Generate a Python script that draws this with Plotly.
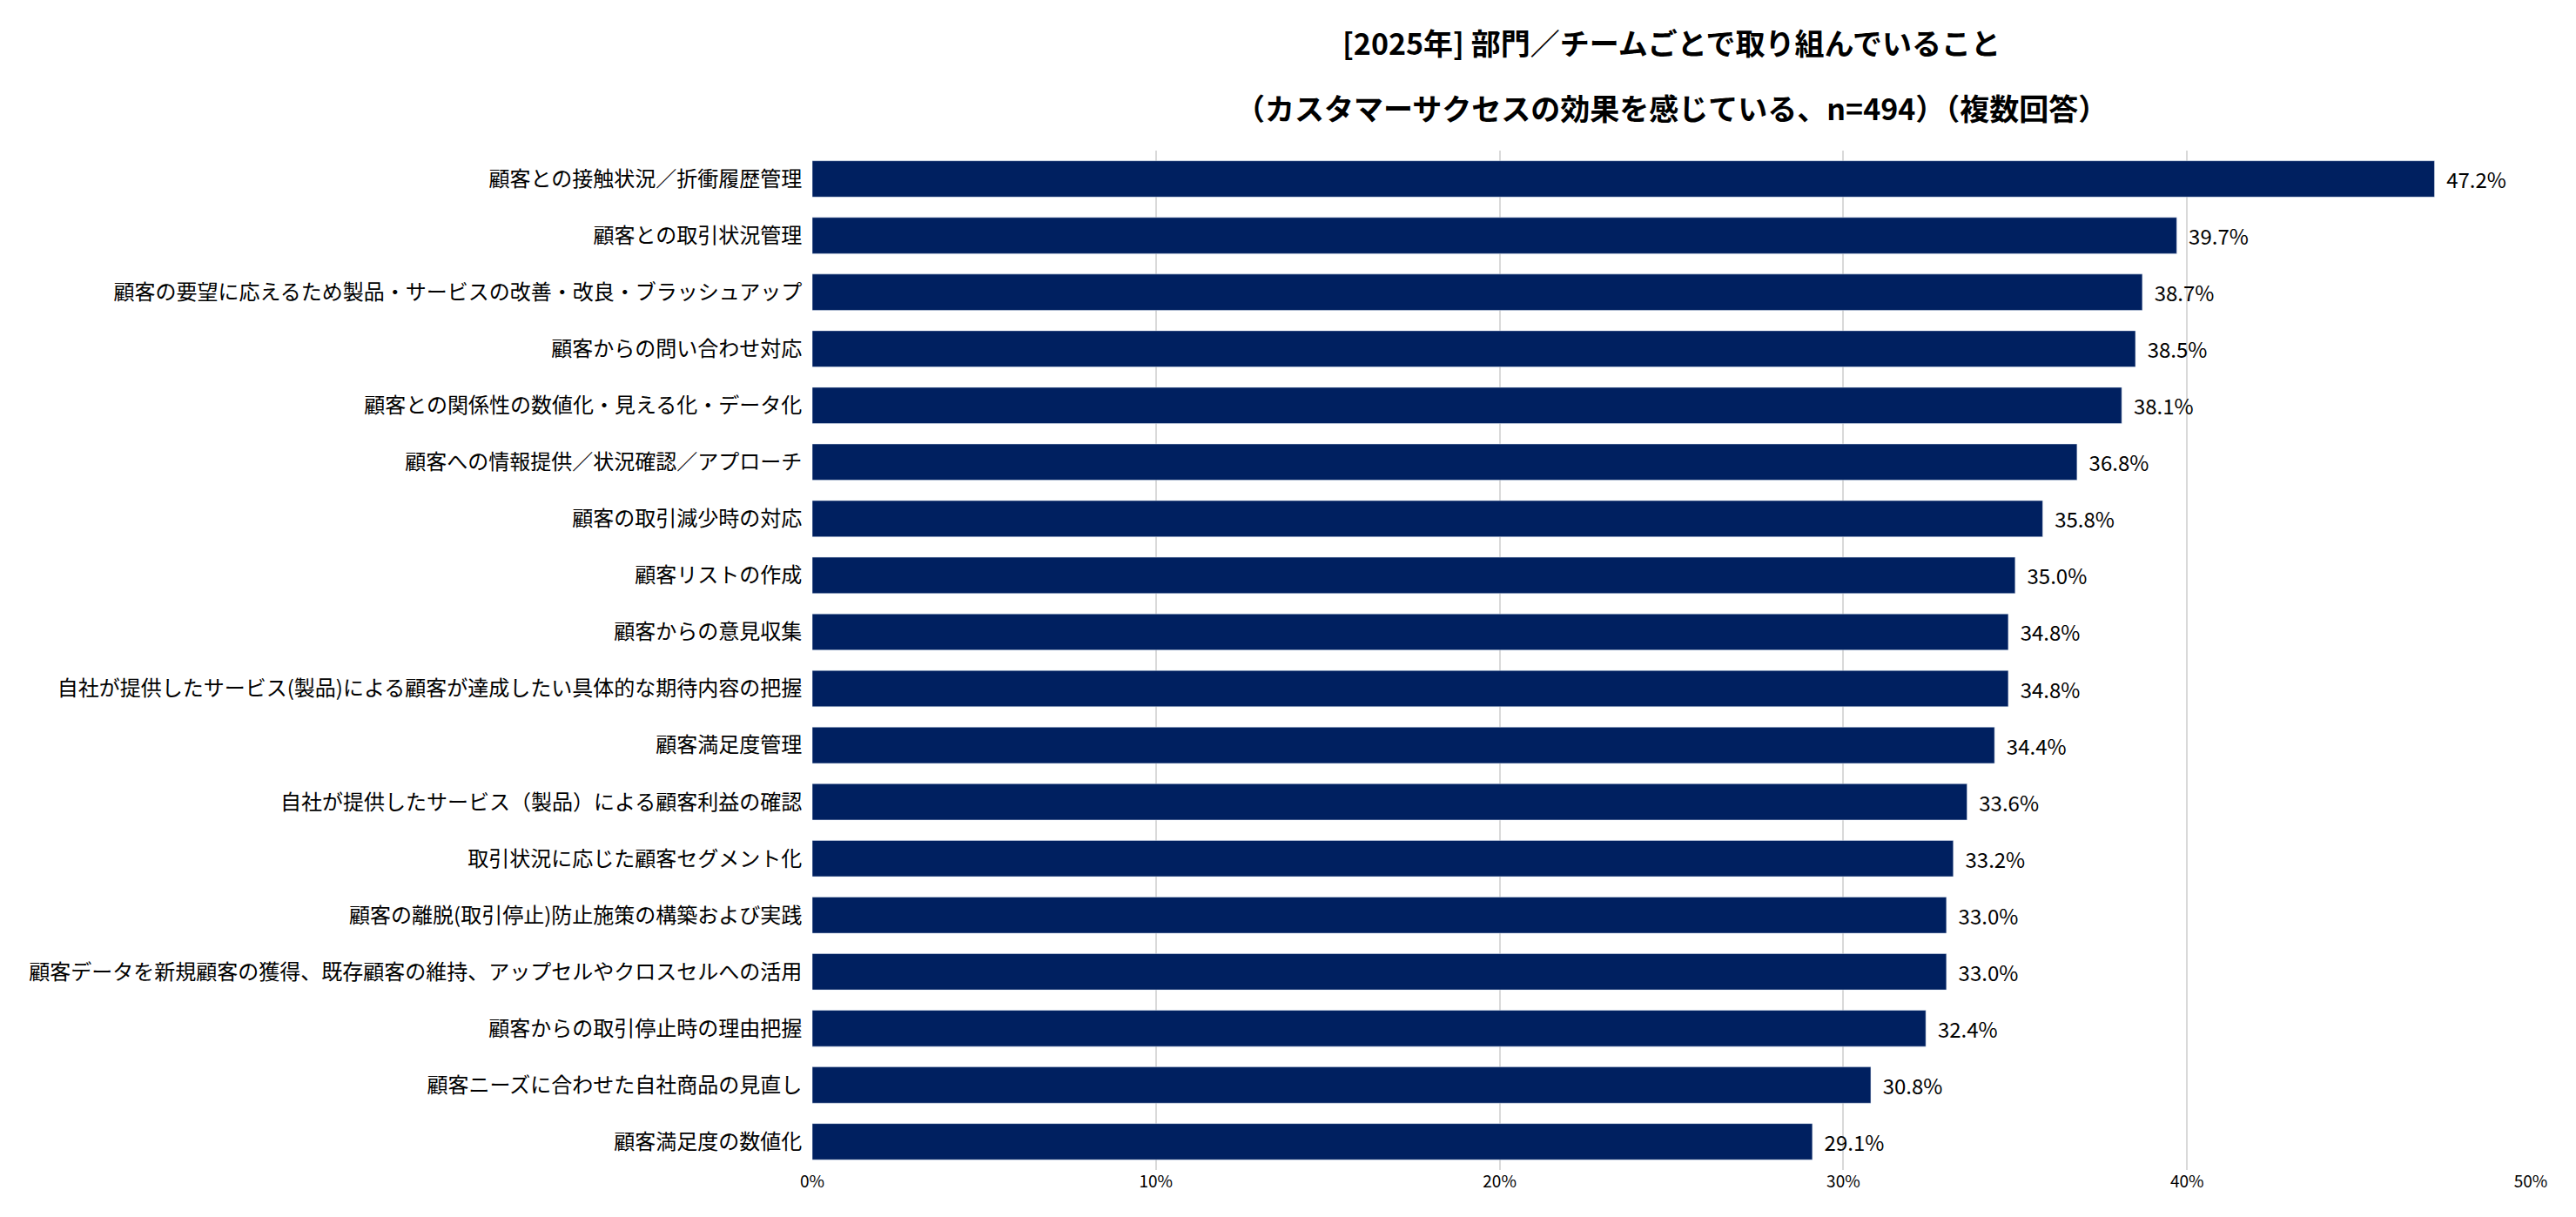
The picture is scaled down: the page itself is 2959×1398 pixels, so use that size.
import plotly.graph_objects as go

CATEGORIES = [
    "顧客との接触状況／折衝履歴管理",
    "顧客との取引状況管理",
    "顧客の要望に応えるため製品・サービスの改善・改良・ブラッシュアップ",
    "顧客からの問い合わせ対応",
    "顧客との関係性の数値化・見える化・データ化",
    "顧客への情報提供／状況確認／アプローチ",
    "顧客の取引減少時の対応",
    "顧客リストの作成",
    "顧客からの意見収集",
    "自社が提供したサービス(製品)による顧客が達成したい具体的な期待内容の把握",
    "顧客満足度管理",
    "自社が提供したサービス（製品）による顧客利益の確認",
    "取引状況に応じた顧客セグメント化",
    "顧客の離脱(取引停止)防止施策の構築および実践",
    "顧客データを新規顧客の獲得、既存顧客の維持、アップセルやクロスセルへの活用",
    "顧客からの取引停止時の理由把握",
    "顧客ニーズに合わせた自社商品の見直し",
    "顧客満足度の数値化",
]
VALUES = [47.2, 39.7, 38.7, 38.5, 38.1, 36.8, 35.8, 35.0, 34.8, 34.8,
          34.4, 33.6, 33.2, 33.0, 33.0, 32.4, 30.8, 29.1]
TICK_VALS = [0, 10, 20, 30, 40, 50]
TICK_TEXT = ["0%", "10%", "20%", "30%", "40%", "50%"]
TITLE_LINES = [
    "[2025年] 部門／チームごとで取り組んでいること",
    "（カスタマーサクセスの効果を感じている、n=494）（複数回答）",
]

FONT = "Noto Sans CJK JP"

fig = go.Figure(go.Bar(
    y=CATEGORIES,
    x=VALUES,
    orientation="h",
    marker_color="#002060",
    text=[f"  {v:.1f}%" for v in VALUES],
    textposition="outside",
    textfont=dict(size=24, color="#000000", family=FONT),
    cliponaxis=False,
))

for line, ypos in zip(TITLE_LINES, [1.106, 1.042]):
    fig.add_annotation(
        text=f"<b>{line}</b>", xref="paper", yref="paper",
        x=0.5, y=ypos, xanchor="center", yanchor="middle", showarrow=False,
        font=dict(size=34, family=FONT, color="#000000"),
    )

fig.update_layout(
    width=2959, height=1398,
    paper_bgcolor="white", plot_bgcolor="white",
    margin=dict(l=925, r=60, t=165, b=62),
    bargap=0.36,
    showlegend=False,
    font=dict(family=FONT, color="#000000"),
    xaxis=dict(
        range=[0, 50], tickvals=TICK_VALS, ticktext=TICK_TEXT,
        showgrid=True, gridcolor="#d9d9d9", gridwidth=2,
        zeroline=False, tickfont=dict(size=19, family=FONT),
    ),
    yaxis=dict(
        autorange="reversed", tickfont=dict(size=24, family=FONT),
        ticksuffix="  ", showgrid=False,
    ),
)

fig.write_html("out.html")
